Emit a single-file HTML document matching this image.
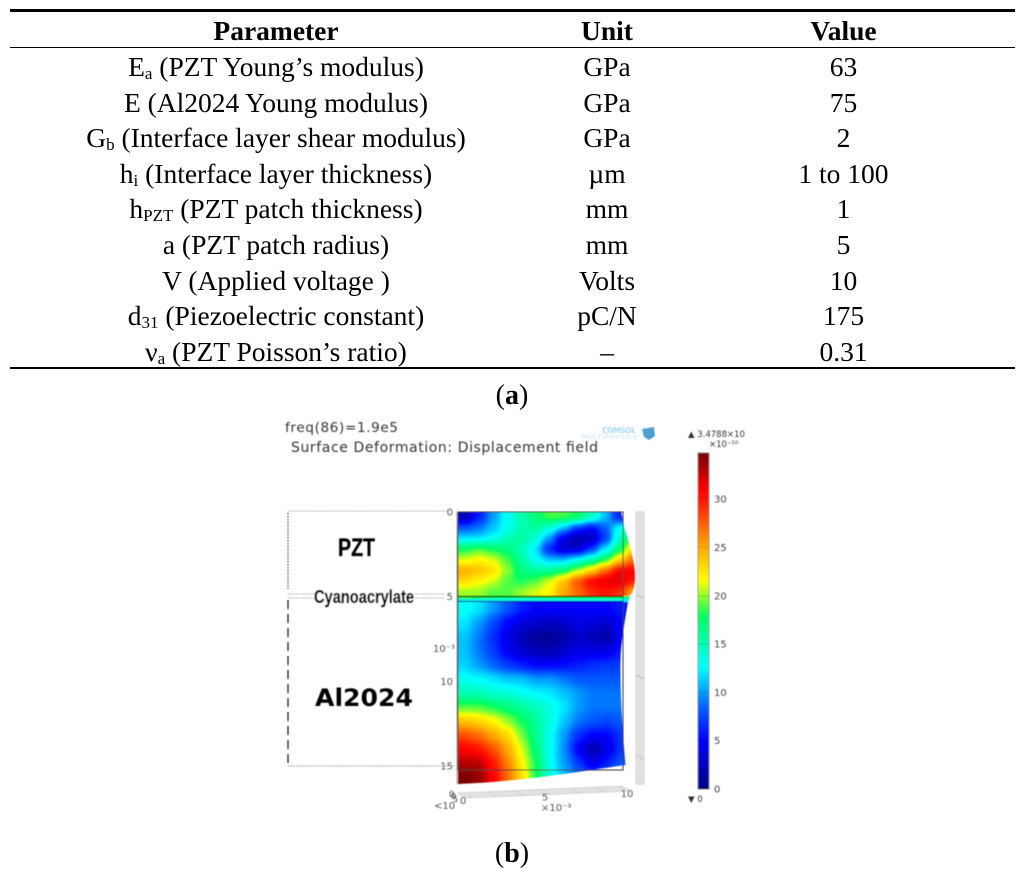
<!DOCTYPE html>
<html lang="en">
<head>
<meta charset="utf-8">
<title>PZT parameters and displacement field</title>
<style>
html,body{margin:0;padding:0;background:#fff;}
#page{position:relative;width:1024px;height:878px;overflow:hidden;background:#fff;font-family:"Liberation Serif",serif;color:#000;}
#params{position:absolute;left:10px;top:12px;width:1005px;border-collapse:collapse;table-layout:fixed;font-size:27.5px;}
#params th{height:37px;padding:0;font-weight:bold;line-height:37px;}
#params td{height:35.6px;padding:0;text-align:center;line-height:35.6px;white-space:nowrap;}
#params sub{font-size:17px;vertical-align:baseline;position:relative;top:3px;line-height:0;}
.rule{position:absolute;left:10px;width:1005px;background:#000;}
.cap{position:absolute;left:0;width:1024px;text-align:center;font-size:28px;line-height:30px;}
#figure{position:absolute;left:0;top:0;}
</style>
</head>
<body>
<div id="page">
<div class="rule" style="top:9px;height:2.5px"></div>
<div class="rule" style="top:47px;height:1.3px"></div>
<div class="rule" style="top:366.8px;height:2.5px"></div>
<table id="params">
<colgroup><col style="width:532px"><col style="width:130px"><col></colgroup>
<tr><th>Parameter</th><th>Unit</th><th>Value</th></tr>
<tr><td>E<sub>a</sub> (PZT Young’s modulus)</td><td>GPa</td><td>63</td></tr>
<tr><td>E (Al2024 Young modulus)</td><td>GPa</td><td>75</td></tr>
<tr><td>G<sub>b</sub> (Interface layer shear modulus)</td><td>GPa</td><td>2</td></tr>
<tr><td>h<sub>i</sub> (Interface layer thickness)</td><td>µm</td><td>1 to 100</td></tr>
<tr><td>h<sub>PZT</sub> (PZT patch thickness)</td><td>mm</td><td>1</td></tr>
<tr><td>a (PZT patch radius)</td><td>mm</td><td>5</td></tr>
<tr><td>V (Applied voltage )</td><td>Volts</td><td>10</td></tr>
<tr><td>d<sub>31</sub> (Piezoelectric constant)</td><td>pC/N</td><td>175</td></tr>
<tr><td>ν<sub>a</sub> (PZT Poisson’s ratio)</td><td>–</td><td>0.31</td></tr>
</table>
<div class="cap" style="top:381px">(<b>a</b>)</div>
<div class="cap" style="top:839px">(<b>b</b>)</div>

<svg id="figure" width="1024" height="878" viewBox="0 0 1024 878" xmlns="http://www.w3.org/2000/svg">
<defs>
<filter id="soft" x="-2%" y="-2%" width="104%" height="104%"><feGaussianBlur stdDeviation="0.45"/></filter>
<filter id="mapPzt" filterUnits="userSpaceOnUse" x="420" y="470" width="260" height="170" color-interpolation-filters="sRGB"><feGaussianBlur stdDeviation="4"/><feComponentTransfer class="cmap"><feFuncR type="table"/><feFuncG type="table"/><feFuncB type="table"/></feComponentTransfer></filter>
<filter id="mapGlue" filterUnits="userSpaceOnUse" x="420" y="580" width="260" height="40" color-interpolation-filters="sRGB"><feGaussianBlur stdDeviation="0.5"/><feComponentTransfer class="cmap"><feFuncR type="table"/><feFuncG type="table"/><feFuncB type="table"/></feComponentTransfer></filter>
<filter id="mapAl" filterUnits="userSpaceOnUse" x="420" y="560" width="260" height="270" color-interpolation-filters="sRGB"><feGaussianBlur stdDeviation="4.5"/><feComponentTransfer class="cmap"><feFuncR type="table"/><feFuncG type="table"/><feFuncB type="table"/></feComponentTransfer></filter>
<clipPath id="clipPzt"><path d="M458 512 L621 512 L625 530 C630 545 636 565 635 580 C634 590 632 595 628 596.5 L458 596.5 Z"/></clipPath>
<clipPath id="clipGlue"><path d="M458 596 L630 596 L628 602 L458 602 Z"/></clipPath>
<clipPath id="clipAl"><path d="M458 602 L628 602 C625 620 621 640 620.5 660 C620 690 622 725 625.5 765 C590 770 520 782 458 784 Z"/></clipPath>
<linearGradient id="barGrad" x1="0" y1="1" x2="0" y2="0"></linearGradient>
</defs>

<g filter="url(#soft)">
<text x="285" y="432" font-family="'DejaVu Sans',sans-serif" font-size="13.5" fill="#333" textLength="113">freq(86)=1.9e5</text>
<text x="291" y="452" font-family="'DejaVu Sans',sans-serif" font-size="14" fill="#333" textLength="307">Surface Deformation: Displacement field</text>
<text x="602" y="433" font-family="'DejaVu Sans',sans-serif" font-size="7.5" font-weight="bold" fill="#a9d8ee" textLength="34">COMSOL</text>
<text x="582" y="439" font-family="'DejaVu Sans',sans-serif" font-size="6.5" fill="#bcdff0" textLength="55">MULTIPHYSICS</text>
<path d="M642 429 L654 427 L655 436 L649 440 L644 437 Z" fill="#4f9fd0"/>

<g fill="none">
<line x1="288" y1="511" x2="450" y2="511" stroke="#aaa" stroke-width="1" stroke-dasharray="1.5 1"/>
<line x1="288" y1="513" x2="288" y2="589" stroke="#222" stroke-width="1" stroke-dasharray="1.5 1.5"/>
<line x1="288" y1="594" x2="445" y2="594" stroke="#aaa" stroke-width="1" stroke-dasharray="1.5 1"/>
<line x1="288" y1="598" x2="445" y2="598" stroke="#aaa" stroke-width="1" stroke-dasharray="1.5 1"/>
<line x1="288" y1="600" x2="288" y2="765" stroke="#111" stroke-width="1.2" stroke-dasharray="9 5"/>
<line x1="288" y1="766" x2="455" y2="766" stroke="#999" stroke-width="1" stroke-dasharray="1.5 1"/>
</g>

<rect x="314" y="589" width="100" height="16" fill="#fff"/>
<text x="338" y="556" font-family="'Liberation Sans',sans-serif" font-weight="bold" font-size="25" textLength="37" lengthAdjust="spacingAndGlyphs" fill="#000" stroke="#000" stroke-width="0.3">PZT</text>
<text x="314" y="603" font-family="'Liberation Sans',sans-serif" font-weight="bold" font-size="18" textLength="100" lengthAdjust="spacingAndGlyphs" fill="#000" stroke="#000" stroke-width="0.3">Cyanoacrylate</text>
<text x="315" y="706" font-family="'DejaVu Sans',sans-serif" font-weight="bold" font-size="24" textLength="98" lengthAdjust="spacingAndGlyphs" fill="#000">Al2024</text>

<g id="rightPanel">
<rect x="636" y="512" width="8" height="272" fill="#e4e4e4" stroke="#bbb" stroke-width="0.6"/>
<path d="M640 512 L640 784" stroke="#cfcfcf" stroke-width="0.6"/>
<path d="M636 595 L644 598 M636 675 L644 679 M636 755 L644 760" stroke="#aaa" stroke-width="0.7"/>
</g>
<g id="bottomPanel">
<path d="M458 793 L622 786 L631 791 L466 798 Z" fill="#e2e2e2" stroke="#c0c0c0" stroke-width="0.6"/>
<path d="M488 792 L496 797 M515 791 L523 796 M543 790 L551 795 M570 789 L578 794 M597 788 L605 792" stroke="#c8c8c8" stroke-width="0.6"/>
</g>

<g clip-path="url(#clipPzt)"><g id="heatPzt" filter="url(#mapPzt)"></g></g>
<g clip-path="url(#clipAl)"><g id="heatAl" filter="url(#mapAl)"></g></g>
<g clip-path="url(#clipGlue)"><g id="heatGlue" filter="url(#mapGlue)"></g></g>

<g fill="none" stroke="#222" stroke-width="1">
<rect x="458" y="512" width="165" height="258" stroke="#333"/>
<line x1="458" y1="596.5" x2="623" y2="596.5" stroke="#111" stroke-width="1.2"/>
<line x1="458" y1="601.5" x2="623" y2="601.5" stroke="#113" stroke-width="1"/>
</g>
<line x1="457" y1="512" x2="457" y2="784" stroke="#999" stroke-width="1"/>

<g id="axisLabels" font-family="'DejaVu Sans',sans-serif" font-size="10" fill="#555"></g>
<g fill="#333" font-family="'DejaVu Sans',sans-serif" font-size="8">
<text x="449" y="797">0</text><text x="451" y="799">0</text><text x="453" y="802">5</text>
</g>

<g id="colorbar"></g>
</g>
</svg>
</div>

<script>
/* colormap: value stops and their colours */
var cmapValues = [0, 5, 8.5, 12.6, 17.8, 21.6, 25, 30, 31, 34.788];
var cmapColors = [[0,0,130],[0,0,255],[0,100,255],[0,255,255],[0,255,100],[255,255,0],[255,170,0],[255,20,0],[255,0,0],[120,0,0]];
var valueMax = 34.788;
var barTicks = [0, 5, 10, 15, 20, 25, 30];

/* displacement field, in 1e-10 units */
var pztField = [
 [2,6,10,13,15,17,19,19,18,15,11,6,5],
 [8,9,11,13,15,16,14,11,7,5,8,13,18],
 [12,12,13,15,16,14,10,4,1.5,2,7,14,20],
 [18,19,18,17,15,12,6,3,3,7,12,17,23],
 [21,22,21,19,16,13,11,11,13,15,18,23,27],
 [25,24,23,20,17,16,16,17,20,23,27,31,31],
 [23,22,21,19,18,19,21,24,28,31,32,32,30],
 [20,20,19,19,20,21,22,25,27,29,30,29,25]
];
var glueField = [
 [19,18,18,17,17,17,18,18,18,18,18,18,17],
 [12,12,12,12,12,12,12,12,12,12,12,12,12]
];
var alField = [
 [13,12,10,8,6,5,5,5,5,5,5,6],
 [12,10,7.5,5,3.5,3,2.5,3,4,3.5,3,5],
 [11,9,6.5,4,2,1,0.8,1.5,3,2,1.5,5],
 [11,9,7,4.5,3,2,2,3,4,4,4,6],
 [11.5,10,8.5,7,6,5,5,5.5,6,6.5,7,7],
 [13,12.5,12,11,11,10,10,9,8,8,8,8],
 [15,15,14,14,13,12.5,12,11,10,9,9,9],
 [19,19,18,17,16,15,13.5,12,10,9,9,9],
 [24,23,22,20,18,16,13.5,11,9,8,7.5,8],
 [28,27,25,23,19.5,16.5,13,10,6.5,5,5,7],
 [31,30,28,25,21,17,13,9.5,4.5,1.5,4,7],
 [33,33,30,26.5,22,18,13,10,7,4,6,8],
 [35,34,31,27,23,18,14,11,9,8,9,10]
];

var axisTicks = ["0", "5", "10", "15"];
var xAxisTicks = ["0", "5", "10"];

var SVGNS = "http://www.w3.org/2000/svg";

function colorAt(v) {
  v = Math.max(cmapValues[0], Math.min(cmapValues[cmapValues.length - 1], v));
  for (var i = 1; i < cmapValues.length; i++) {
    if (v <= cmapValues[i]) {
      var t = (v - cmapValues[i - 1]) / (cmapValues[i] - cmapValues[i - 1]);
      return cmapColors[i - 1].map(function (c, k) { return c + (cmapColors[i][k] - c) * t; });
    }
  }
  return cmapColors[cmapColors.length - 1];
}

/* lookup table that turns the blurred grey value image into the rainbow */
(function () {
  var n = 128, r = [], g = [], b = [];
  for (var i = 0; i < n; i++) {
    var c = colorAt(valueMax * i / (n - 1));
    r.push((c[0] / 255).toFixed(3));
    g.push((c[1] / 255).toFixed(3));
    b.push((c[2] / 255).toFixed(3));
  }
  document.querySelectorAll(".cmap").forEach(function (f) {
    f.querySelector("feFuncR").setAttribute("tableValues", r.join(" "));
    f.querySelector("feFuncG").setAttribute("tableValues", g.join(" "));
    f.querySelector("feFuncB").setAttribute("tableValues", b.join(" "));
  });
})();

function drawField(groupId, field, x0, y0, cw, ch, pad) {
  var g = document.getElementById(groupId);
  var rows = field.length, cols = field[0].length;
  function xAxis(c) { return x0 + c * cw; }
  function yAxis(r) { return y0 + r * ch; }
  field.forEach(function (row, r) {
    row.forEach(function (v, c) {
      var el = document.createElementNS(SVGNS, "rect");
      var left = c === 0 ? xAxis(c) - pad : xAxis(c);
      var top = r === 0 ? yAxis(r) - pad : yAxis(r);
      var right = c === cols - 1 ? xAxis(c + 1) + pad : xAxis(c + 1);
      var bottom = r === rows - 1 ? yAxis(r + 1) + pad : yAxis(r + 1);
      var grey = Math.round(255 * Math.min(1, v / valueMax));
      el.setAttribute("x", left);
      el.setAttribute("y", top);
      el.setAttribute("width", right - left + 0.5);
      el.setAttribute("height", bottom - top + 0.5);
      el.setAttribute("fill", "rgb(" + grey + "," + grey + "," + grey + ")");
      
      
      g.appendChild(el);
    });
  });
}
drawField("heatPzt", pztField, 458, 512, 14, 10.6, 20);
drawField("heatGlue", glueField, 458, 596, 14, 3, 8);
drawField("heatAl", alField, 458, 602, 14.2, 14, 20);

/* colour bar */
(function () {
  var bar = document.getElementById("colorbar");
  var grad = document.getElementById("barGrad");
  var barX = 698, barW = 11, barBottom = 789, pxPerUnit = 9.66;
  function yBar(v) { return barBottom - v * pxPerUnit; }
  cmapValues.forEach(function (v, i) {
    var s = document.createElementNS(SVGNS, "stop");
    s.setAttribute("offset", (v / valueMax));
    s.setAttribute("stop-color", "rgb(" + cmapColors[i].join(",") + ")");
    grad.appendChild(s);
  });
  var r = document.createElementNS(SVGNS, "rect");
  r.setAttribute("x", barX);
  r.setAttribute("y", yBar(valueMax));
  r.setAttribute("width", barW);
  r.setAttribute("height", valueMax * pxPerUnit);
  r.setAttribute("fill", "url(#barGrad)");
  r.setAttribute("stroke", "#777");
  r.setAttribute("stroke-width", "0.7");
  
  
  bar.appendChild(r);
  barTicks.forEach(function (v) {
    var t = document.createElementNS(SVGNS, "text");
    t.setAttribute("x", barX + 16);
    t.setAttribute("y", yBar(v) + 3.5);
    t.setAttribute("font-family", "'DejaVu Sans',sans-serif");
    t.setAttribute("font-size", "10");
    t.setAttribute("fill", "#444");
    t.textContent = v;
    
    
    bar.appendChild(t);
    var l = document.createElementNS(SVGNS, "line");
    l.setAttribute("x1", barX);
    l.setAttribute("x2", barX + barW);
    l.setAttribute("y1", yBar(v));
    l.setAttribute("y2", yBar(v));
    l.setAttribute("stroke", "#000");
    l.setAttribute("stroke-opacity", "0.25");
    l.setAttribute("stroke-width", "0.6");
    
    
    bar.appendChild(l);
  });
  var extras = [
    ["▲ 3.4788×10", 688, 437, 'colorbar-max-label'],
    ["×10⁻¹⁰", 709, 447, 'colorbar-exponent'],
    ["▼ 0", 688, 802, 'colorbar-min-label']
  ];
  extras.forEach(function (e) {
    var t = document.createElementNS(SVGNS, "text");
    t.setAttribute("x", e[1]);
    t.setAttribute("y", e[2]);
    t.setAttribute("font-family", "'DejaVu Sans',sans-serif");
    t.setAttribute("font-size", "8.5");
    t.setAttribute("fill", "#333");
    t.textContent = e[0];
    
    
    bar.appendChild(t);
  });
})();

/* axis labels */
(function () {
  var g = document.getElementById("axisLabels");
  function yAxisPos(i) { return 512 + i * 84.7; }
  function xAxisPos(i) { return 463 + i * 82; }
  function add(str, x, y, anchor, name) {
    var t = document.createElementNS(SVGNS, "text");
    t.setAttribute("x", x);
    t.setAttribute("y", y);
    t.setAttribute("text-anchor", anchor);
    t.textContent = str;
    
    
    g.appendChild(t);
  }
  axisTicks.forEach(function (s, i) {
    add(s, 453, yAxisPos(i) + 3.5, "end", "y-axis-tick-label");
  });
  xAxisTicks.forEach(function (s, i) {
    add(s, xAxisPos(i), 804 - i * 3.5, "middle", "x-axis-tick-label");
  });
  add("10⁻³", 433, 652, "start", "y-axis-exponent");
  add("×10⁻³", 541, 811, "start", "x-axis-exponent");
  add("<10", 434, 809, "start", "z-axis-exponent");
})();
</script>
</body>
</html>
